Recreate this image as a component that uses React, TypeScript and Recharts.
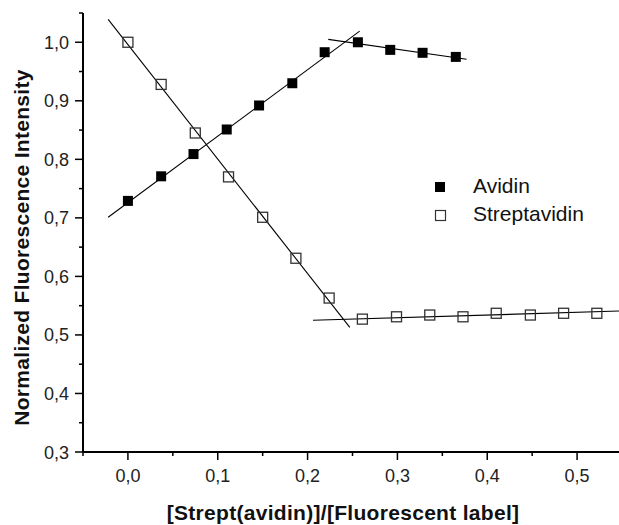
import React from 'react';
import { ScatterChart, Scatter, XAxis, YAxis, Legend, Label } from 'recharts';

// Measured data
const avidinX = [0, 0.037, 0.073, 0.11, 0.146, 0.183, 0.219, 0.256, 0.292, 0.328, 0.365];
const avidinY = [0.729, 0.771, 0.809, 0.851, 0.892, 0.93, 0.983, 1.0, 0.987, 0.982, 0.975];
const streptX = [0, 0.037, 0.075, 0.112, 0.15, 0.187, 0.224, 0.261, 0.299, 0.336, 0.373, 0.41, 0.448, 0.485, 0.522];
const streptY = [1.0, 0.928, 0.845, 0.77, 0.701, 0.631, 0.563, 0.527, 0.531, 0.534, 0.531, 0.537, 0.534, 0.537, 0.537];

// Fit line endpoints
const avidinRiseX = [-0.022, 0.258];
const avidinRiseY = [0.701, 1.019];
const avidinFlatX = [0.223, 0.377];
const avidinFlatY = [1.005, 0.971];
const streptFallX = [-0.022, 0.247];
const streptFallY = [1.039, 0.513];
const streptFlatX = [0.206, 0.55];
const streptFlatY = [0.525, 0.541];

const seriesNames = ['Avidin', 'Streptavidin'];

const xTicks = [-0.05, 0, 0.05, 0.1, 0.15, 0.2, 0.25, 0.3, 0.35, 0.4, 0.45, 0.5, 0.55];
const xMajor = [0, 0.1, 0.2, 0.3, 0.4, 0.5];
const yTicks = [0.3, 0.35, 0.4, 0.45, 0.5, 0.55, 0.6, 0.65, 0.7, 0.75, 0.8, 0.85, 0.9, 0.95, 1.0, 1.05];
const yMajor = [0.3, 0.4, 0.5, 0.6, 0.7, 0.8, 0.9, 1.0];

const xTitle = '[Strept(avidin)]/[Fluorescent label]';
const yTitle = 'Normalized Fluorescence Intensity';

const zip = (xs: number[], ys: number[]) => xs.map((x, i) => ({ x, y: ys[i] }));

const avidinData = zip(avidinX, avidinY);
const streptData = zip(streptX, streptY);
const fits = [
  zip(avidinRiseX, avidinRiseY),
  zip(avidinFlatX, avidinFlatY),
  zip(streptFallX, streptFallY),
  zip(streptFlatX, streptFlatY),
];

const FONT = '"Liberation Sans", Arial, Helvetica, sans-serif';
const isMajor = (v: number, list: number[]) => list.some((m) => Math.abs(m - v) < 1e-6);
const fmt = (v: number) => v.toFixed(1).replace('.', ',');

const XTick = (props: any) => {
  const { x, y, payload } = props;
  const major = isMajor(payload.value, xMajor);
  return (
    <g>
      <line x1={x} x2={x} y1={y} y2={y + (major ? 8 : 4)} stroke="#000" strokeWidth={1.5} />
      {major && (
        <text x={x} y={y + 30} textAnchor="middle" fontSize={18} fill="#222" fontFamily={FONT}>
          {fmt(payload.value)}
        </text>
      )}
    </g>
  );
};

const YTick = (props: any) => {
  const { x, y, payload } = props;
  const major = isMajor(payload.value, yMajor);
  return (
    <g>
      <line x1={x - (major ? 8 : 4)} x2={x} y1={y} y2={y} stroke="#000" strokeWidth={1.5} />
      {major && (
        <text x={x - 14} y={y + 6.5} textAnchor="end" fontSize={18} fill="#222" fontFamily={FONT}>
          {fmt(payload.value)}
        </text>
      )}
    </g>
  );
};

const FilledSquare = (p: any) => (
  <rect x={p.cx - 5} y={p.cy - 5} width={10} height={10} fill="#000" />
);
const OpenSquare = (p: any) => (
  <rect x={p.cx - 5} y={p.cy - 5} width={10} height={10} fill="none" stroke="#333" strokeWidth={1.3} />
);
const NoShape = () => <g />;

const LegendBox = () => (
  <svg width={170} height={60}>
    <rect x={6} y={10} width={10} height={10} fill="#000" />
    <text x={44} y={21} fontSize={21} fill="#111" fontFamily={FONT}>{seriesNames[0]}</text>
    <rect x={6.5} y={38.5} width={10} height={10} fill="#fff" stroke="#333" strokeWidth={1.2} />
    <text x={44} y={49} fontSize={21} fill="#111" fontFamily={FONT}>{seriesNames[1]}</text>
  </svg>
);

const XTitle = (props: any) => {
  const { viewBox } = props;
  return (
    <text x={viewBox.x + 260} y={viewBox.y + 68} textAnchor="middle" fontSize={21} letterSpacing={0.3} fontWeight="bold" fill="#111" fontFamily={FONT}>
      {xTitle}
    </text>
  );
};

const YTitle = (props: any) => {
  const { viewBox } = props;
  const cx = viewBox.x + 29;
  const cy = viewBox.y + viewBox.height / 2 + 15;
  return (
    <text x={cx} y={cy} transform={`rotate(-90, ${cx}, ${cy})`} textAnchor="middle" fontSize={21} letterSpacing={0.3} fontWeight="bold" fill="#111" fontFamily={FONT}>
      {yTitle}
    </text>
  );
};

export default function App() {
  return (
    <div style={{ position: 'absolute', left: 0, top: 0, width: 619, height: 525, overflow: 'hidden', background: '#fff' }}>
      <ScatterChart width={624} height={525} margin={{ top: 13, right: 2, left: 0, bottom: 0 }}>
        <XAxis
          type="number"
          dataKey="x"
          domain={[-0.05, 0.55]}
          ticks={xTicks}
          allowDataOverflow
          height={73}
          tickSize={0}
          tickMargin={0}
          tickLine={false}
          tick={<XTick />}
          interval={0}
          axisLine={{ stroke: '#000', strokeWidth: 2 }}
        >
          <Label content={<XTitle />} />
        </XAxis>
        <YAxis
          type="number"
          dataKey="y"
          domain={[0.3, 1.05]}
          ticks={yTicks}
          allowDataOverflow
          width={83}
          tickSize={0}
          tickMargin={0}
          tickLine={false}
          tick={<YTick />}
          interval={0}
          axisLine={{ stroke: '#000', strokeWidth: 2 }}
        >
          <Label content={<YTitle />} />
        </YAxis>
        {fits.map((d, i) => (
          <Scatter
            key={'fit' + i}
            data={d}
            line={{ stroke: '#000', strokeWidth: 1.1 }}
            shape={NoShape}
            legendType="none"
            isAnimationActive={false}
          />
        ))}
        <Scatter name={seriesNames[0]} data={avidinData} shape={FilledSquare} isAnimationActive={false} />
        <Scatter name={seriesNames[1]} data={streptData} shape={OpenSquare} isAnimationActive={false} />
        <Legend
          layout="vertical"
          align="center"
          verticalAlign="middle"
          content={<LegendBox />}
          wrapperStyle={{ left: 429, top: 172, width: 170, height: 60 }}
        />
      </ScatterChart>
    </div>
  );
}
